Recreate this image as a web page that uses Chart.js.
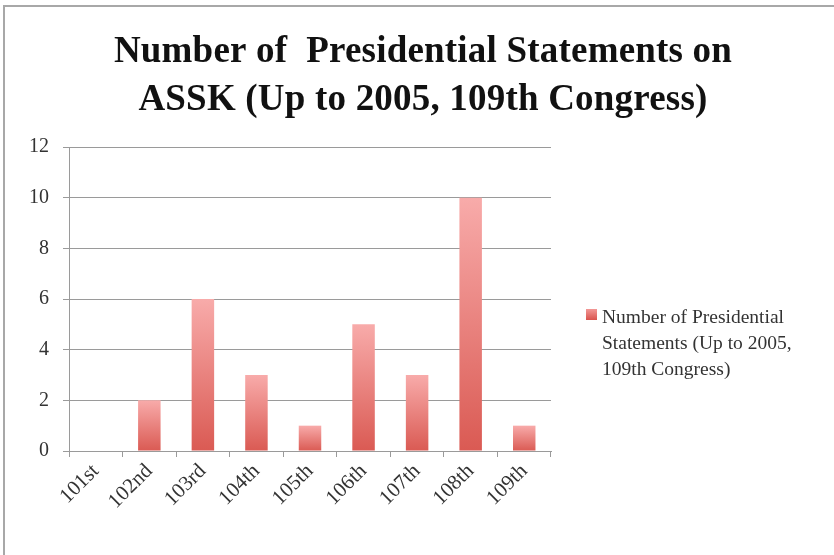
<!DOCTYPE html>
<html>
<head>
<meta charset="utf-8">
<script src="https://cdn.jsdelivr.net/npm/chart.js"></script>
<style>
  html, body { margin: 0; padding: 0; background: #fff; }
  #marco { position: absolute; left: 0; top: 0; width: 834px; height: 555px; }
  #borde { position: absolute; left: 3px; top: 5px; right: 0; bottom: 0;
           border-top: 2px solid #a8a8a8; border-left: 2px solid #a8a8a8; }
</style>
</head>
<body>
<div id="marco">
  <canvas id="grafico-declaraciones" width="834" height="555"></canvas>
  <div id="borde"></div>
</div>
<script>
const congresos = ['101st', '102nd', '103rd', '104th', '105th', '106th', '107th', '108th', '109th'];
const declaraciones = [0, 2, 6, 3, 1, 5, 3, 10, 1];
const ticksY = [0, 2, 4, 6, 8, 10, 12];
const tituloLineas = ['Number of  Presidential Statements on', 'ASSK (Up to 2005, 109th Congress)'];
const leyendaLineas = ['Number of Presidential', 'Statements (Up to 2005,', '109th Congress)'];

const fuenteEjes = 'Liberation Serif';

// degradado claro arriba, rojo abajo, por cada barra
function colorBarra(ctx) {
    if (ctx.type !== 'data') return '#e2706b';
    const escala = ctx.chart.scales.y;
    if (!escala) return '#e2706b';
    const arriba = escala.getPixelForValue(ctx.raw);
    const base = escala.getPixelForValue(0);
    if (!isFinite(arriba) || base - arriba < 1) return '#e2706b';
    const g = ctx.chart.ctx.createLinearGradient(0, arriba, 0, base);
    g.addColorStop(0, '#f8abaa');
    g.addColorStop(1, '#da5a53');
    return g;
}

// titulo centrado sobre todo el lienzo (no solo sobre el area del grafico)
const tituloManual = {
    id: 'tituloManual',
    afterDraw(chart) {
        const c = chart.ctx;
        c.save();
        c.fillStyle = '#111';
        c.font = 'bold 37px "Liberation Serif"';
        c.letterSpacing = '0.2px';
        c.textAlign = 'center';
        c.textBaseline = 'middle';
        tituloLineas.forEach((t, i) => c.fillText(t, 423, 52 + i * 48));
        c.restore();
    }
};

// leyenda a la derecha con texto en varias lineas
const leyendaManual = {
    id: 'leyendaManual',
    afterDraw(chart) {
        const c = chart.ctx;
        c.save();
        const g = c.createLinearGradient(0, 309, 0, 320);
        g.addColorStop(0, '#f29896');
        g.addColorStop(1, '#d9534d');
        c.fillStyle = g;
        c.fillRect(586, 309, 11, 11);
        c.fillStyle = '#333';
        c.font = '19.5px "' + fuenteEjes + '"';
        c.textBaseline = 'middle';
        leyendaLineas.forEach((t, i) => c.fillText(t, 602, 318 + i * 26));
        c.restore();
    }
};

const ctx = document.getElementById('grafico-declaraciones');
new Chart(ctx, {
    type: 'bar',
    data: {
        labels: congresos,
        datasets: [{
            label: leyendaLineas.join(' '),
            data: declaraciones,
            backgroundColor: colorBarra,
            barPercentage: 0.42,
            categoryPercentage: 1
        }]
    },
    options: {
        responsive: false,
        animation: false,
        layout: { padding: { left: 0, right: 283, top: 147, bottom: 0 } },
        plugins: {
            legend: { display: false },
            tooltip: { enabled: false },
            title: { display: false }
        },
        scales: {
            x: {
                afterFit(s) { s.height = 104; },
                grid: { offset: true, drawOnChartArea: false, color: '#9a9a9a', tickLength: 6 },
                border: { color: '#9a9a9a' },
                ticks: {
                    color: '#333',
                    font: { family: fuenteEjes, size: 21 },
                    minRotation: 45,
                    maxRotation: 45,
                    padding: 2
                }
            },
            y: {
                min: 0,
                max: 12,
                afterFit(s) { s.width = 69; },
                afterBuildTicks(s) { s.ticks = ticksY.map(v => ({ value: v })); },
                grid: { color: '#9a9a9a', tickLength: 6 },
                border: { color: '#9a9a9a' },
                ticks: {
                    color: '#333',
                    font: { family: fuenteEjes, size: 20 },
                    padding: 14
                }
            }
        }
    },
    plugins: [tituloManual, leyendaManual]
});
</script>
</body>
</html>
